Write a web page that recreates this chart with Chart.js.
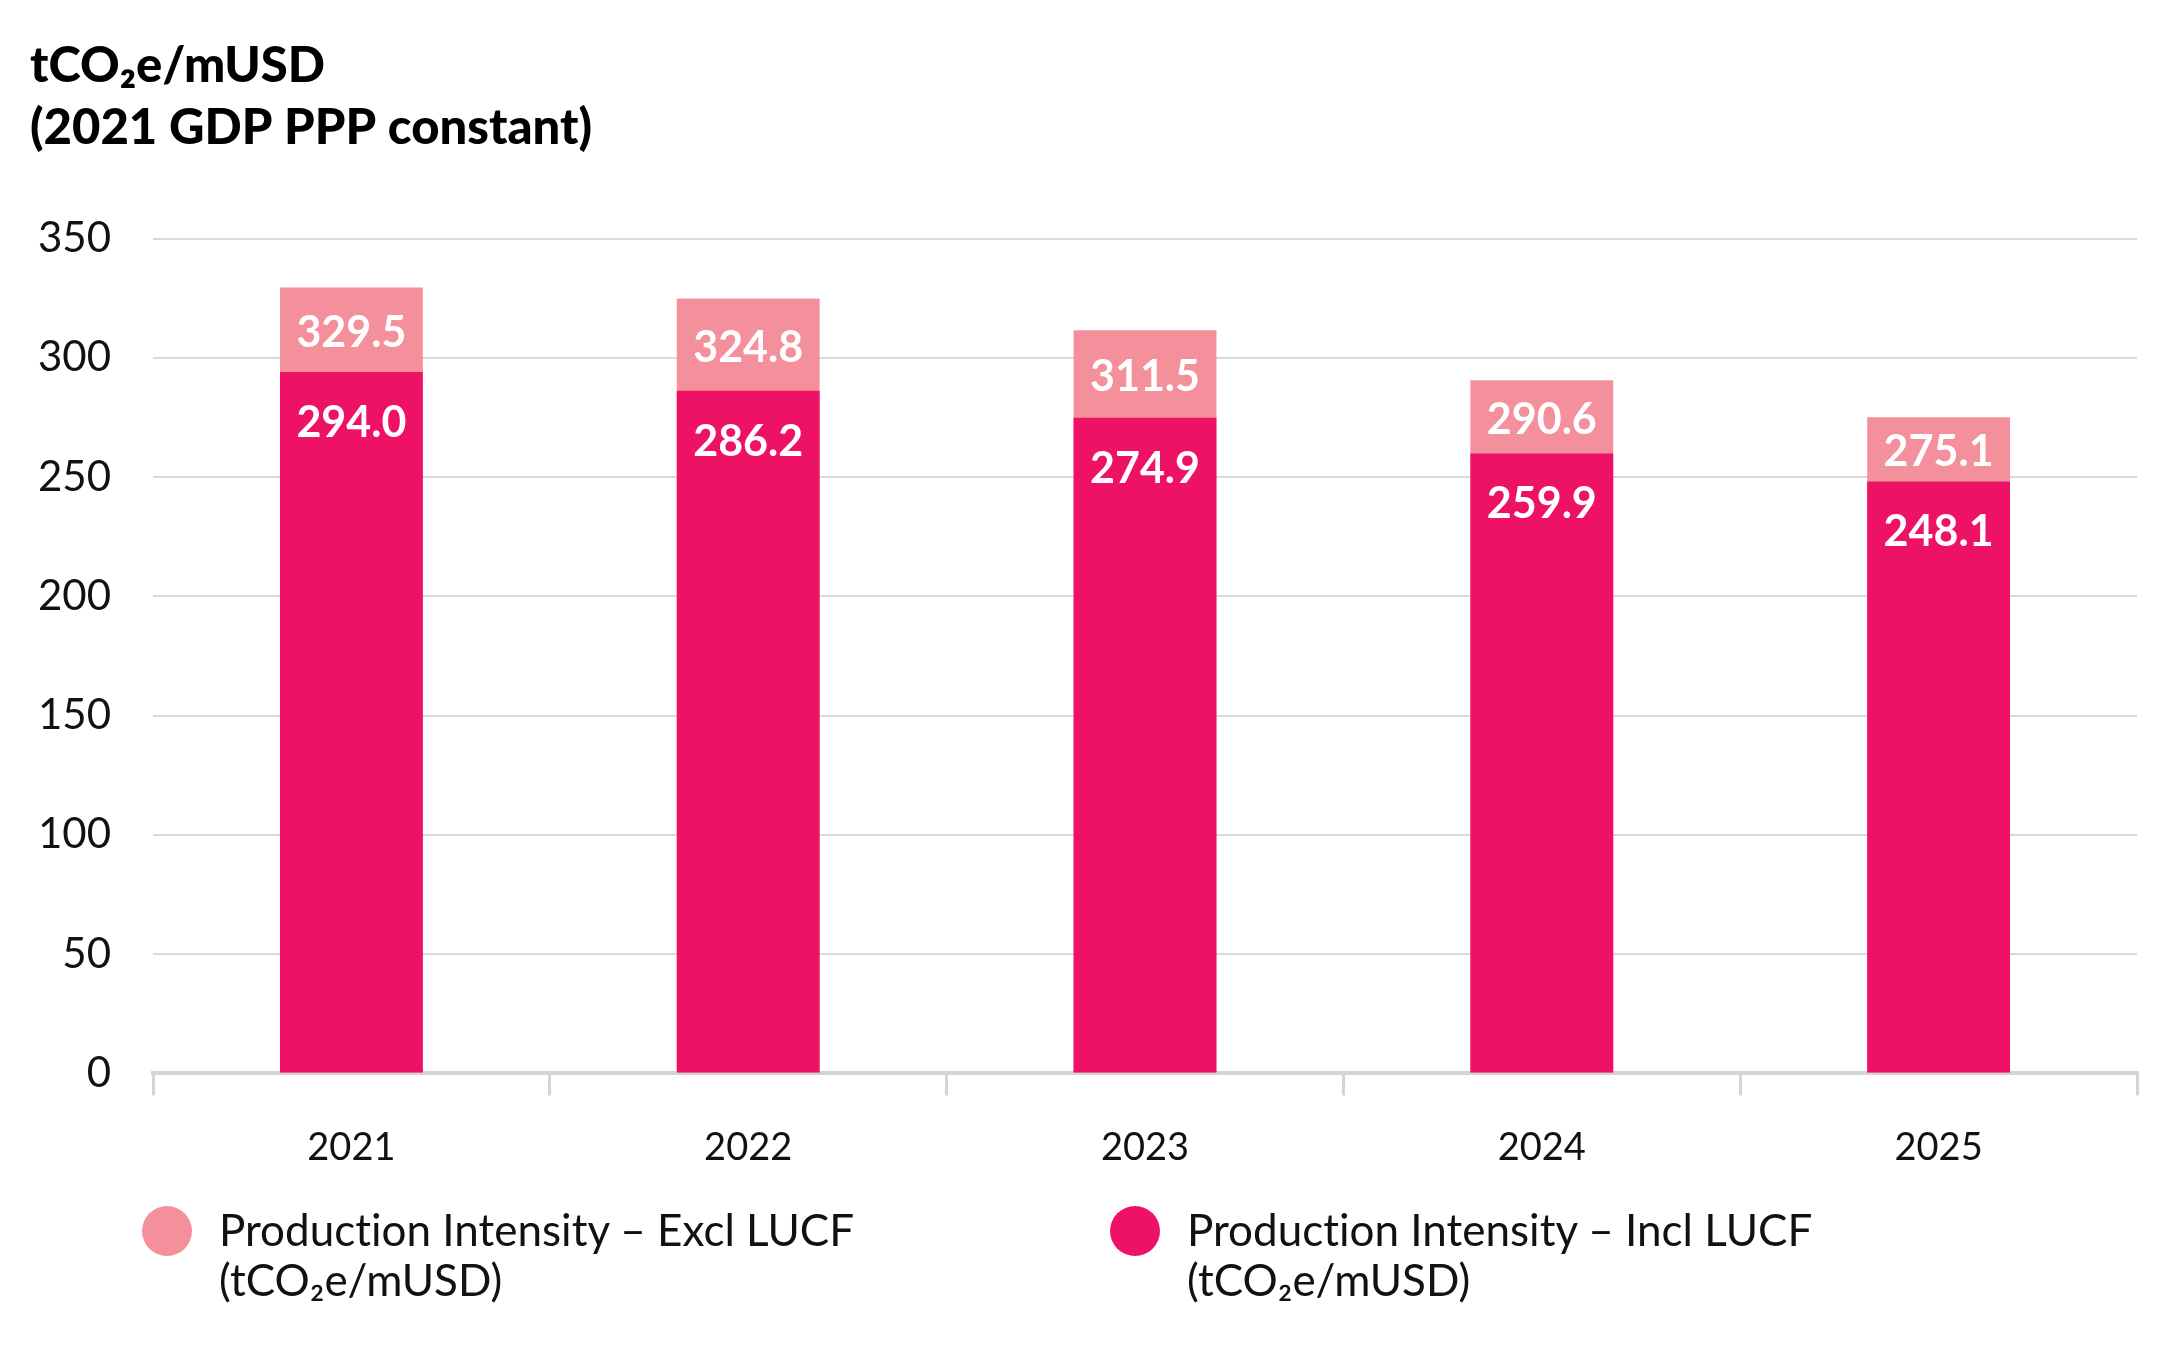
<!DOCTYPE html>
<html>
<head>
<meta charset="utf-8">
<script src="https://cdn.jsdelivr.net/npm/chart.js@4/dist/chart.umd.min.js"></script>
<style>
  body { margin:0; background:#fff; font-family: Lato, "Open Sans", sans-serif; }
  #wrap { position:relative; width:2175px; height:1350px; }
  #legend { position:absolute; top:1204px; left:0; width:2175px; }
  .item { position:absolute; top:0; font-size:44px; line-height:50px; color:#111; font-variant-ligatures:none; }
  .dot { position:absolute; width:50px; height:50px; border-radius:50%; top:2px; }
  .txt { position:absolute; white-space:nowrap; }
</style>
</head>
<body>
<div id="wrap">
  <canvas id="chart" width="2175" height="1350"></canvas>
  <div id="legend"></div>
</div>
<script>
var years = ['2021', '2022', '2023', '2024', '2025'];
var exclLucf = [329.5, 324.8, 311.5, 290.6, 275.1];
var inclLucf = [294.0, 286.2, 274.9, 259.9, 248.1];
var yTicks = [0, 50, 100, 150, 200, 250, 300, 350];
var titleLines = ['tCO₂e/mUSD', '(2021 GDP PPP constant)'];
var legendNames = [
  ['Production Intensity – Excl LUCF', '(tCO₂e/mUSD)'],
  ['Production Intensity – Incl LUCF', '(tCO₂e/mUSD)']
];

var lightPink = '#F4909B';
var darkPink = '#EE1266';
var fontName = 'Lato, "Open Sans", sans-serif';

// white value labels inside the bars
var valueLabels = {
  id: 'valueLabels',
  afterDatasetsDraw: function(chart){
    var ctx = chart.ctx;
    var light = chart.getDatasetMeta(0).data;
    var dark = chart.getDatasetMeta(1).data;
    ctx.save();
    ctx.fillStyle = '#fff';
    ctx.font = 'bold 43px ' + fontName;
    ctx.textAlign = 'center';
    ctx.textBaseline = 'middle';
    for (var i = 0; i < years.length; i++) {
      var lb = light[i], db = dark[i];
      ctx.fillText(exclLucf[i].toFixed(1), lb.x, (lb.y + db.y) / 2 + 3);
      ctx.fillText(inclLucf[i].toFixed(1), db.x, db.y + 51);
    }
    ctx.restore();
  }
};

var ctx = document.getElementById('chart').getContext('2d');
var myBar = new Chart(ctx, {
  type: 'bar',
  data: {
    labels: years,
    datasets: [{
      label: legendNames[0].join(' '),
      data: exclLucf,
      backgroundColor: lightPink,
      grouped: false,
      order: 1,
      barPercentage: 0.36,
      categoryPercentage: 1
    }, {
      label: legendNames[1].join(' '),
      data: inclLucf,
      backgroundColor: darkPink,
      grouped: false,
      order: 0,
      barPercentage: 0.36,
      categoryPercentage: 1
    }]
  },
  plugins: [valueLabels],
  options: {
    responsive: false,
    animation: false,
    layout: { padding: { left: 30, right: 38, top: 36, bottom: 149 } },
    plugins: {
      legend: { display: false },
      tooltip: { enabled: false },
      title: {
        display: true,
        text: titleLines,
        align: 'start',
        color: '#000',
        font: { family: fontName, size: 49, weight: 900, lineHeight: 1.25 },
        padding: { top: 0, bottom: 80 }
      }
    },
    scales: {
      x: {
        grid: { drawOnChartArea: false, drawTicks: true, tickLength: 22, color: '#d4d4d6', lineWidth: 3, offset: true },
        border: { display: true, color: '#d4d4d6', width: 4 },
        ticks: { color: '#111', padding: 30, font: { family: fontName, size: 38 } }
      },
      y: {
        min: 0,
        max: 350,
        afterFit: function(scale){ scale.width = 123; },
        afterBuildTicks: function(scale){
          scale.ticks = yTicks.map(function(v){ return { value: v }; });
        },
        grid: { color: '#d9d9d9', lineWidth: 2, drawTicks: false },
        border: { display: false },
        ticks: { color: '#111', padding: 42, font: { family: fontName, size: 42 } }
      }
    }
  }
});

// legend under the chart
var legendLeft = [142, 1110];
var legendColors = [lightPink, darkPink];
var legendBox = document.getElementById('legend');
legendNames.forEach(function(lines, i){
  var item = document.createElement('div');
  item.className = 'item';
  item.style.left = legendLeft[i] + 'px';
  var dot = document.createElement('div');
  dot.className = 'dot';
  dot.style.background = legendColors[i];
  var txt = document.createElement('div');
  txt.className = 'txt';
  txt.style.left = '77px';
  txt.innerHTML = lines[0] + '<br>' + lines[1];
  item.appendChild(dot);
  item.appendChild(txt);
  legendBox.appendChild(item);
});
</script>
</body>
</html>
